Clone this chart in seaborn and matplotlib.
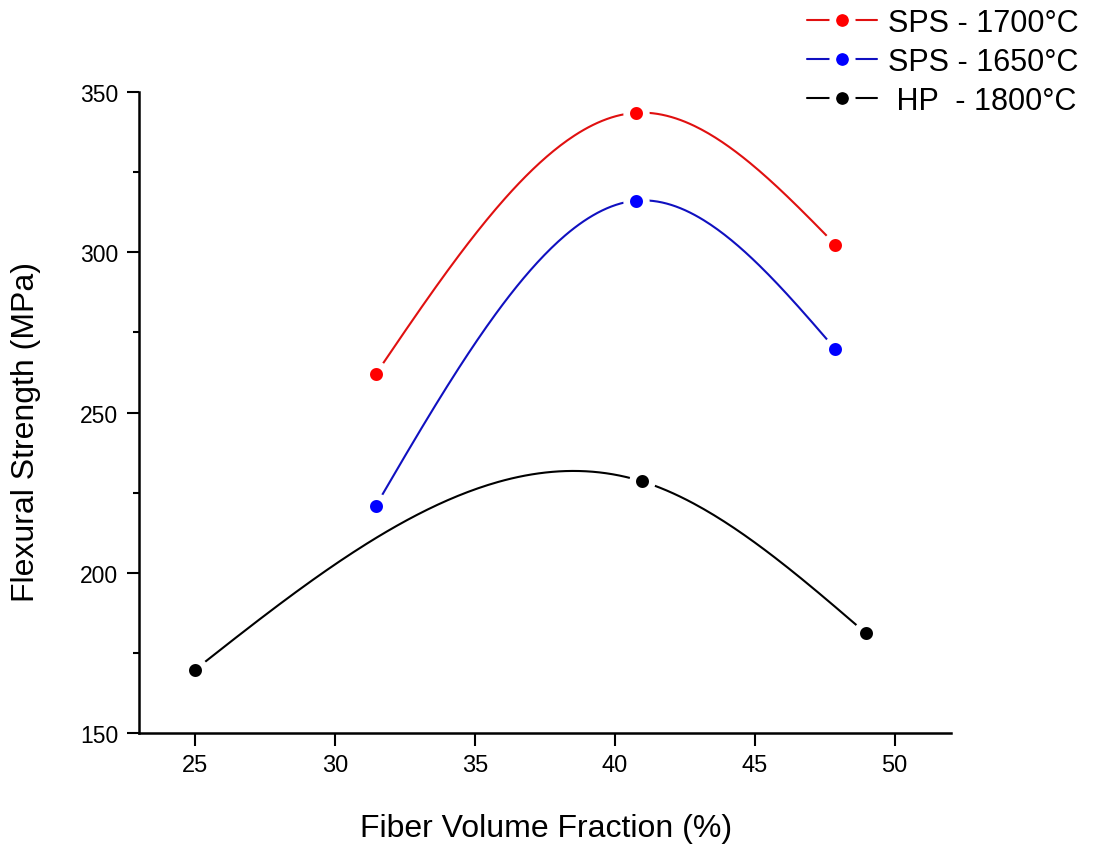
import numpy as np
import pandas as pd
import matplotlib
matplotlib.use("Agg")
import matplotlib.pyplot as plt
from matplotlib.lines import Line2D
import seaborn as sns

# ---- data ----
sps1700_x = [31.46, 40.76, 47.88]
sps1700_y = [262.0, 343.5, 302.4]
sps1650_x = [31.46, 40.76, 47.88]
sps1650_y = [220.9, 316.1, 269.8]
hp1800_x = [25.0, 40.96, 48.96]
hp1800_y = [169.8, 228.6, 181.3]
series_labels = ["SPS - 1700°C", "SPS - 1650°C", " HP  - 1800°C"]
series_colors = ["#ff0000", "#0000ff", "#000000"]
line_colors = ["#e01010", "#1010c0", "#000000"]
x_ticks = [25, 30, 35, 40, 45, 50]
y_ticks = [150, 200, 250, 300, 350]

sns.set_theme(style="white")
plt.rcParams['font.family'] = ['Liberation Sans', 'DejaVu Sans']
plt.rcParams['text.color'] = 'black'
plt.rcParams['axes.labelcolor'] = 'black'
plt.rcParams['xtick.color'] = 'black'
plt.rcParams['ytick.color'] = 'black'


def natural_spline(xp, yp, n=200):
    """Smooth connecting line (natural cubic spline) through the data points."""
    xp = np.asarray(xp, float)
    yp = np.asarray(yp, float)
    k = len(xp)
    h = np.diff(xp)
    A = np.zeros((k, k))
    b = np.zeros(k)
    A[0, 0] = 1
    A[-1, -1] = 1
    for i in range(1, k - 1):
        A[i, i - 1] = h[i - 1]
        A[i, i] = 2 * (h[i - 1] + h[i])
        A[i, i + 1] = h[i]
        b[i] = 6 * ((yp[i + 1] - yp[i]) / h[i] - (yp[i] - yp[i - 1]) / h[i - 1])
    M = np.linalg.solve(A, b)
    xs = np.linspace(xp[0], xp[-1], n)
    idx = np.clip(np.searchsorted(xp, xs) - 1, 0, k - 2)
    x0, x1 = xp[idx], xp[idx + 1]
    y0, y1 = yp[idx], yp[idx + 1]
    M0, M1 = M[idx], M[idx + 1]
    hh = x1 - x0
    ys = (M0 * (x1 - xs) ** 3 / (6 * hh) + M1 * (xs - x0) ** 3 / (6 * hh)
          + (y0 / hh - M0 * hh / 6) * (x1 - xs) + (y1 / hh - M1 * hh / 6) * (xs - x0))
    return xs, ys


fig = plt.figure(figsize=(10.94, 8.45), dpi=100)
ax = fig.add_axes([0.127, 0.131, 0.742, 0.759])

series = [(sps1700_x, sps1700_y), (sps1650_x, sps1650_y), (hp1800_x, hp1800_y)]
for (xv, yv), c, lc in zip(series, series_colors, line_colors):
    xs, ys = natural_spline(xv, yv)
    sns.lineplot(x=xs, y=ys, color=lc, lw=1.5, ax=ax, sort=False, zorder=2)
for (xv, yv), c in zip(series, series_colors):
    sns.scatterplot(x=xv, y=yv, color=c, s=200, edgecolor="white", linewidth=4.8,
                    ax=ax, zorder=3)

ax.set_xlim(23, 52)
ax.set_ylim(150, 350)
ax.set_xticks(x_ticks)
ax.set_yticks(y_ticks)
ax.set_yticks([175, 225, 275, 325], minor=True)
ax.set_xticklabels([str(t) for t in x_ticks], fontsize=17)
ax.set_yticklabels([str(t) for t in y_ticks], fontsize=16.5)
ax.tick_params(axis='both', which='major', direction='out', length=9, width=1.5,
               color='black', bottom=True, left=True, pad=6)
ax.tick_params(axis='y', which='minor', direction='out', length=4.5, width=1.5,
               color='black', left=True)

for s in ['top', 'right']:
    ax.spines[s].set_visible(False)
for s in ['left', 'bottom']:
    ax.spines[s].set_color('black')
    ax.spines[s].set_linewidth(1.8)

ax.set_xlabel("Fiber Volume Fraction (%)", fontsize=23)
ax.set_ylabel("Flexural Strength (MPa)", fontsize=23)
ax.xaxis.set_label_coords(0.502, -0.125)
ax.yaxis.set_label_coords(-0.121, 0.471)

handles = [Line2D([0], [0], color=lc, lw=1.5, marker='o', markersize=14,
                  markerfacecolor=c, markeredgecolor='white', markeredgewidth=4.8)
           for c, lc in zip(series_colors, line_colors)]
leg = fig.legend(handles, series_labels, loc='upper right', bbox_to_anchor=(1.0, 1.008),
                 frameon=False, fontsize=22, handlelength=2.3, handletextpad=0.35,
                 labelspacing=0.3, borderaxespad=0.1)

fig.savefig("out.png", dpi=100)
